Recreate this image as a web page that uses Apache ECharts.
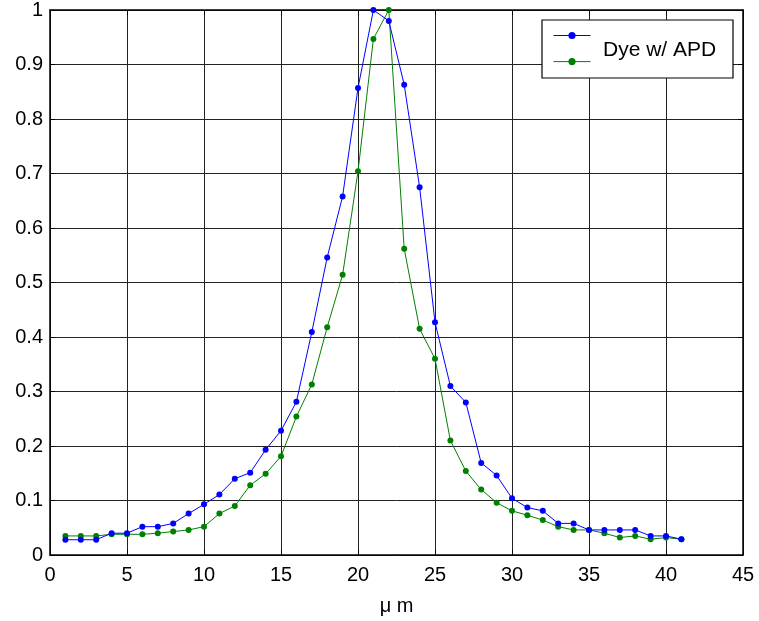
<!DOCTYPE html>
<html>
<head>
<meta charset="utf-8">
<script src="https://cdn.jsdelivr.net/npm/echarts@6/dist/echarts.min.js"></script>
<style>html,body{margin:0;padding:0;background:#fff;}#c{width:759px;height:621px;}</style>
</head>
<body>
<div id="c"></div>
<script>
const xs = [1,2,3,4,5,6,7,8,9,10,11,12,13,14,15,16,17,18,19,20,21,22,23,24,25,26,27,28,29,30,31,32,33,34,35,36,37,38,39,40,41];
const blueVals = [0.028,0.028,0.028,0.040,0.040,0.052,0.052,0.058,0.076,0.093,0.111,0.140,0.151,0.193,0.228,0.281,0.409,0.546,0.658,0.857,1.0,0.980,0.863,0.675,0.427,0.310,0.280,0.169,0.146,0.104,0.087,0.081,0.058,0.058,0.046,0.046,0.046,0.046,0.035,0.035,0.029];
const greenVals = [0.035,0.035,0.035,0.038,0.038,0.038,0.040,0.043,0.046,0.052,0.076,0.090,0.128,0.149,0.181,0.254,0.313,0.418,0.514,0.704,0.947,1.0,0.562,0.415,0.360,0.210,0.154,0.120,0.096,0.081,0.073,0.064,0.052,0.046,0.046,0.040,0.032,0.035,0.029,0.032,0.029];
const legendLabel = 'Dye w/ APD';
const xLabel = 'μ m';

const chart = echarts.init(document.getElementById('c'), null, {renderer:'canvas'});
const font = 'Liberation Sans, Arial, sans-serif';
const pairs = (v) => xs.map((x,i)=>[x, v[i]]);
const axisCommon = {
  axisLine:{show:true, onZero:false, lineStyle:{color:'#000', width:1.5}},
  axisTick:{show:true, inside:true, length:5, lineStyle:{color:'#000'}},
};
chart.setOption({
  animation:false,
  backgroundColor:'#fff',
  grid:{left:50, right:16, top:10, bottom:65, containLabel:false},
  xAxis:[
    Object.assign({type:'value', min:0, max:45, interval:5, position:'bottom',
      name:xLabel, nameLocation:'middle', nameGap:41,
      nameTextStyle:{fontFamily:font, fontSize:20, color:'#000'},
      axisLabel:{fontFamily:font, fontSize:20, color:'#000', margin:10},
      splitLine:{show:true, lineStyle:{color:'#222', width:1}}}, axisCommon),
    Object.assign({type:'value', min:0, max:45, interval:5, position:'top',
      axisLabel:{show:false}, splitLine:{show:false}}, axisCommon)
  ],
  yAxis:[
    Object.assign({type:'value', min:0, max:1, interval:0.1, position:'left',
      axisLabel:{fontFamily:font, fontSize:20, color:'#000', margin:7,
        formatter:(v)=> (v===0||v===1)? String(v) : v.toFixed(1)},
      splitLine:{show:true, lineStyle:{color:'#222', width:1}}}, axisCommon),
    Object.assign({type:'value', min:0, max:1, interval:0.1, position:'right',
      axisLabel:{show:false}, splitLine:{show:false}}, axisCommon)
  ],
  legend:{
    z:100,
    orient:'vertical', left:553, top:31, itemWidth:37, itemHeight:9, itemGap:18,
    lineStyle:{width:1},
    formatter:()=>'', selectedMode:false, padding:0,
    data:['A','B']
  },
  graphic:[
    {type:'rect', z:50, shape:{x:542, y:20, width:191, height:58},
      style:{fill:'#fff', stroke:'#000', lineWidth:1.2}},
    {type:'text', z:100, left:603, top:40,
      style:{text:legendLabel, fontFamily:font, fontSize:21, fill:'#000'}}
  ],
  series:[
    {name:'A', type:'line', data:pairs(blueVals), symbol:'circle', symbolSize:6,
      lineStyle:{color:'#0000ff', width:1}, itemStyle:{color:'#0000ff'}, z:3},
    {name:'B', type:'line', data:pairs(greenVals), symbol:'circle', symbolSize:6,
      lineStyle:{color:'#008000', width:1}, itemStyle:{color:'#008000'}, z:2}
  ]
});
</script>
</body>
</html>
